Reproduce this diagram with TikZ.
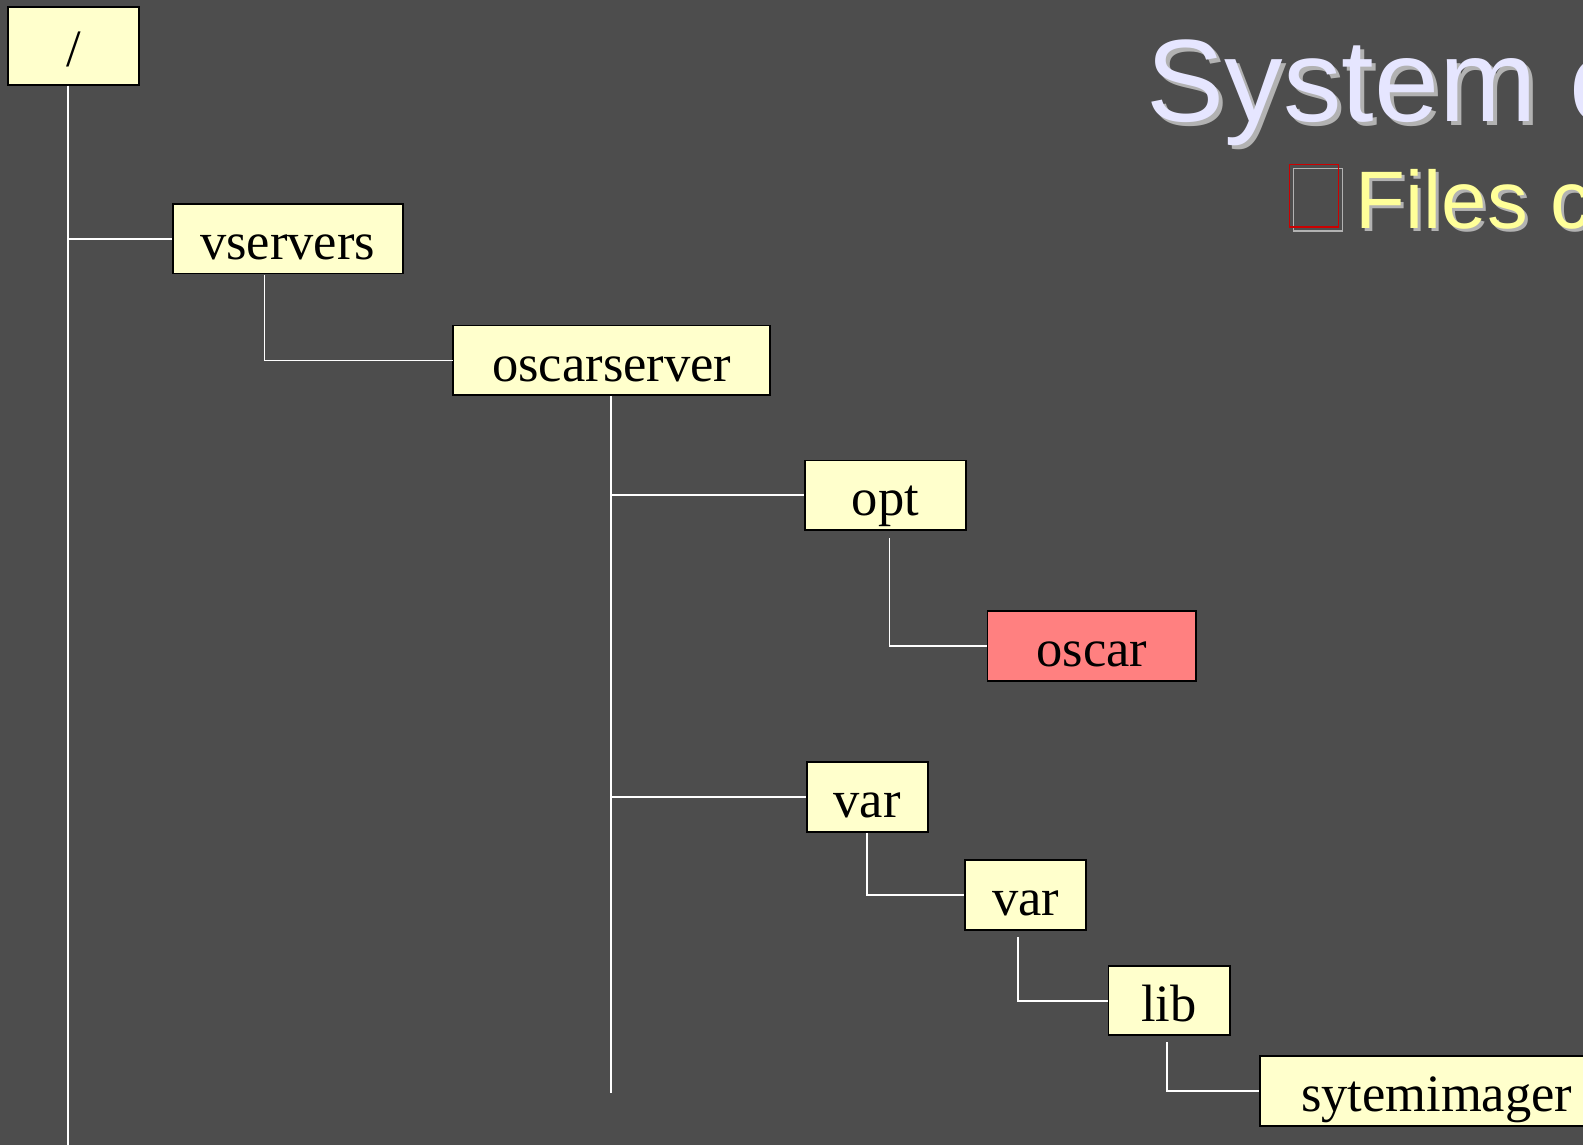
\documentclass[tikz,border=0pt]{standalone}
\usepackage{fontspec}
\setmainfont{Liberation Serif}
\newfontfamily\headfont{Liberation Sans}
\usetikzlibrary{shapes}
\definecolor{slide}{HTML}{4D4D4D}
\definecolor{dirfill}{HTML}{FFFFCC}
\definecolor{hotfill}{HTML}{FF8080}
\definecolor{headcol}{HTML}{E6E6FF}
\definecolor{subcol}{HTML}{FFFF99}
\definecolor{shadowgray}{HTML}{B2B2B2}
\tikzstyle{dir}=[rectangle,draw=black,fill=dirfill,line width=1pt,inner sep=0pt,minimum height=1.38cm,text height=0.82cm,text depth=0pt,font=\fontsize{29.6}{30}\selectfont]

\begin{document}
\begin{tikzpicture}[x=0.02cm,y=-0.02cm,scale=1.0096,every node/.style={transform shape},line width=1pt]
    \tikzstyle{link}=[draw=white,line width=1pt]
    \fill[slide] (0,0) rectangle (1568,1134);
    \clip (0,0) rectangle (1568,1134);
    \useasboundingbox (0,0) rectangle (1568,1134);
    % heading
    \node[anchor=base west,inner sep=0pt,text=shadowgray,font=\headfont\fontsize{66}{66}\selectfont] at (1139,124) {System c};
    \node[anchor=base west,inner sep=0pt,text=headcol,font=\headfont\fontsize{66}{66}\selectfont] (T) at (1135,120) {System c};
    \draw[shadowgray,line width=0.8pt] (1281,167) rectangle (1330,229);
    \draw[red!80!black,line width=0.8pt] (1277,163) rectangle (1326,225);
    \node[anchor=base west,inner sep=0pt,text=shadowgray,font=\headfont\fontsize{46}{46}\selectfont] at (1345,229) {Files c};
    \node[anchor=base west,inner sep=0pt,text=subcol,font=\headfont\fontsize{46}{46}\selectfont] (S) at (1342,226) {Files c};
    % directory tree
    \node[dir,minimum width=2.6cm,minimum height=1.54cm] (R) at (73,45.5) {/};
    \node[dir,minimum width=4.56cm] (V)    at (285,236.5)  {vservers};
    \node[dir,minimum width=6.28cm] (OS)   at (606,357)    {oscarserver};
    \node[dir,minimum width=3.2cm]  (OPT)  at (877,490.5)  {opt};
    \node[dir,minimum width=4.14cm,fill=hotfill] (OSC) at (1081.5,640) {oscar};
    \node[dir,minimum width=2.4cm]  (VAR1) at (859,789.5)  {var};
    \node[dir,minimum width=2.4cm]  (VAR2) at (1016,886.5) {var};
    \node[dir,minimum width=2.4cm]  (LIB)  at (1158,991)   {lib};
    \node[dir,minimum width=7cm]    (SI)   at (1423,1080.5) {sytemimager};
    \coordinate (Rend) at (67,1134);
    \coordinate (OSend) at (605,1082);
    \draw[link] (R.south -| Rend) -- (Rend);
    \draw[link] (V.west) -- (V.west -| Rend);
    \draw[link] ([xshift=-0.46cm]V.south) |- (OS.west);
    \draw[link] (OS.south -| OSend) -- (OSend);
    \draw[link] (OPT.west) -- (OPT.west -| OSend);
    \draw[link] (VAR1.west) -- (VAR1.west -| OSend);
    \draw[link] ([xshift=0.08cm,yshift=-0.14cm]OPT.south) |- (OSC.west);
    \draw[link] (VAR1.south) |- (VAR2.west);
    \draw[link] ([xshift=-0.16cm,yshift=-0.12cm]VAR2.south) |- (LIB.west);
    \draw[link] ([xshift=-0.04cm,yshift=-0.12cm]LIB.south) |- (SI.west);
\end{tikzpicture}
\end{document}
